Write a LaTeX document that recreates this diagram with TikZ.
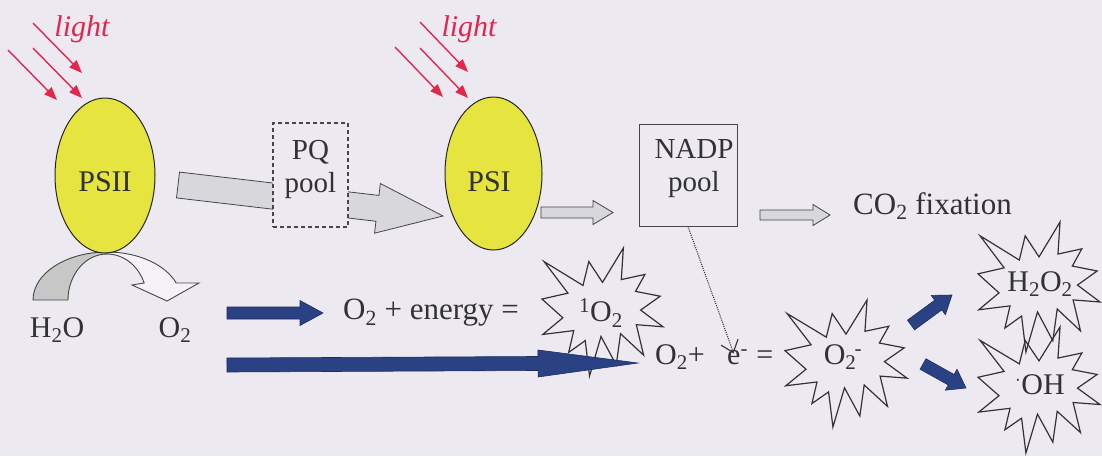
\documentclass[tikz,border=0pt]{standalone}
\usepackage{fontspec}
\setmainfont{Liberation Serif}
\usetikzlibrary{arrows.meta,calc,shapes.geometric}

\definecolor{bg}{RGB}{236,233,240}
\definecolor{psyellow}{RGB}{230,228,62}
\definecolor{lightred}{RGB}{226,38,78}
\definecolor{darkblue}{RGB}{42,66,132}
\definecolor{arrgrey}{RGB}{216,216,220}
\definecolor{linegrey}{RGB}{70,70,70}
\definecolor{txt}{RGB}{50,50,50}
\definecolor{whitearr}{RGB}{244,242,246}

% block arrow: #1 style, #2 tail, #3 tip, #4 half shaft, #5 half head, #6 head length
\newcommand\blockarrow[6]{%
  \coordinate (ba-h) at ($(#3)!#6!(#2)$);
  \path[#1] ($(#2)!#4!90:(#3)$) -- ($(ba-h)!#4!90:(#3)$) -- ($(ba-h)!#5!90:(#3)$)
    -- (#3) -- ($(ba-h)!#5!-90:(#3)$) -- ($(ba-h)!#4!-90:(#3)$) -- ($(#2)!#4!-90:(#3)$) -- cycle;}

% explosion outline in a 100x100 box
\newcommand\explosion[1]{%
  \draw[#1] (50,26.85) -- (38.67,10.63) -- (33.85,29.26) -- (1.71,10.63) -- (21.42,35.26)
   -- (0,39.88) -- (17.23,54.51) -- (0.63,67.53) -- (26.24,64.52) -- (22.05,81.56)
   -- (35.72,72.35) -- (39.28,100) -- (48.76,69.14) -- (61.33,91.38) -- (64.91,66.93)
   -- (84,83.77) -- (77.95,59.92) -- (100,61.53) -- (81.51,48.5) -- (97.67,37.67)
   -- (77.32,33.87) -- (85.09,20.63) -- (65.53,24.65) -- (67.23,0) -- cycle;}

\begin{document}
\begin{tikzpicture}[x=1pt,y=-1pt,
  lbl/.style={inner sep=0pt, text=txt, font=\fontsize{30}{30}\selectfont},
  eqlbl/.style={inner sep=0pt, text=txt, font=\fontsize{31}{31}\selectfont},
  boxlbl/.style={inner sep=0pt, text=txt, align=center, font=\fontsize{29}{33}\selectfont},
  lighttxt/.style={inner sep=0pt, text=lightred, font=\itshape\fontsize{30}{30}\selectfont},
  lightarr/.style={draw=lightred, line width=1.4pt, -{Triangle[length=13pt,width=10pt]}},
  psshape/.style={ellipse, draw=black!85, line width=1pt, fill=psyellow, inner sep=0pt},
  greyarr/.style={fill=arrgrey, draw=linegrey, line width=0.8pt},
  bluearr/.style={fill=darkblue, draw=darkblue!70!black, line width=0.6pt},
  seal/.style={draw=black!80, line width=1.2pt, line join=miter},
  curvgrey/.style={fill=black!22, draw=linegrey, line width=0.9pt},
  curvwhite/.style={fill=whitearr, draw=linegrey, line width=0.9pt},
  dotarr/.style={draw=black!80, line width=1.1pt, dash pattern=on 1pt off 1.2pt,
    -{Straight Barb[length=11pt,width=18pt,line width=1.1pt]}}
]
\fill[bg] (0,0) rectangle (1102,456);
\useasboundingbox (0,0) rectangle (1102,456);

% curved arrows under PSII
\draw[curvgrey] (33,300) arc[start angle=180, end angle=270, x radius=74, y radius=48]
  -- (107,254) arc[start angle=270, end angle=180, x radius=39, y radius=46] -- cycle;
\draw[curvwhite] (107,252) arc[start angle=270, end angle=339.3, x radius=74, y radius=48]
  -- (199,283) -- (167,301) -- (132,285) -- (144.2,283)
  arc[start angle=338.3, end angle=270, x radius=40, y radius=46] -- cycle;

% photosystems
\node[psshape, minimum width=100pt, minimum height=155pt] (psii) at (105,175.5) {};
\node[lbl] (psiit) at (105,182) {PSII};

% big grey arrow PSII -> PSI (behind PQ pool)
\coordinate (g1) at (178,185);
\coordinate (g2) at (443,216);
\blockarrow{greyarr}{g1}{g2}{13pt}{25pt}{66pt}

\node[draw=linegrey, line width=1.1pt, dash pattern=on 4pt off 3pt, fill=bg,
  minimum width=75pt, minimum height=104pt, inner sep=0pt] (pq) at (310.5,175) {};
\node[boxlbl] (pqt) at (310.5,169) {PQ\\pool};

\node[psshape, minimum width=97pt, minimum height=153pt] (psi) at (493.5,173.5) {};
\node[lbl] (psit) at (489,182) {PSI};

% light
\node[lighttxt] (light1) at (82,29) {light};
\node[lighttxt] (light2) at (469,29) {light};
\foreach \p in {(33,23),(8,50),(33,48)} \draw[lightarr] \p -- ++(49,50);
\foreach \p in {(420,22),(395,47),(420,48)} \draw[lightarr] \p -- ++(48,50);

% NADP pool
\node[draw=linegrey, line width=1pt, minimum width=98pt, minimum height=102pt, inner sep=0pt] (nadp) at (688,175) {};
\node[boxlbl] (nadpt) at (694,169) {NADP\\pool};

\coordinate (a1) at (541,212.5);
\coordinate (a2) at (613,212.5);
\blockarrow{greyarr}{a1}{a2}{5.5pt}{12pt}{20pt}
\coordinate (b1) at (760,215);
\coordinate (b2) at (830,215);
\blockarrow{greyarr}{b1}{b2}{5pt}{10.5pt}{17pt}
\node[eqlbl, anchor=west] (co2) at (853,206) {CO\textsubscript{2} fixation};

% H2O / O2
\node[lbl] (h2o) at (57,330) {H\textsubscript{2}O};
\node[lbl] (o2) at (175,330) {O\textsubscript{2}};

% stars
\explosion{seal, shift={(542,248)}, xscale=1.21, yscale=1.28}
\node[lbl] (singlet) at (601,313) {\textsuperscript{1}O\textsubscript{2}};
\explosion{seal, shift={(785,300)}, xscale=1.22, yscale=1.27}
\node[lbl] (superox) at (843,357) {O\textsubscript{2}\kern-0.06em\textsuperscript{-}};
\explosion{seal, shift={(978,222)}, xscale=1.22, yscale=1.30}
\node[lbl] (h2o2) at (1040,284) {H\textsubscript{2}O\textsubscript{2}};
\explosion{seal, shift={(978,327)}, xscale=1.22, yscale=1.26}
\node[lbl] (oh) at (1040,385) {\textsuperscript{$\cdot$}OH};

% blue arrows
\coordinate (c1) at (227,313);
\coordinate (c2) at (323,313);
\blockarrow{bluearr}{c1}{c2}{6pt}{12.5pt}{23pt}
\node[eqlbl, anchor=west] (energy) at (343,313) {O\textsubscript{2} + energy =};

\coordinate (d1) at (227,365);
\coordinate (d2) at (638,363);
\blockarrow{bluearr}{d1}{d2}{7pt}{13.5pt}{100pt}

\node[lbl, anchor=west] (o2p) at (655,357) {O\textsubscript{2}+};
\node[lbl, anchor=base west] (el) at ($(o2p.base east)+(22,0)$) {e\textsuperscript{-}};
\node[lbl, anchor=base west] (eqs) at ($(el.base east)+(8,0)$) {=};
\draw[dotarr] (nadp.south) -- ($(el.north)+(-4,4)$);

\coordinate (e1) at (911,325);
\coordinate (e2) at (952,295);
\blockarrow{bluearr}{e1}{e2}{6pt}{12pt}{17pt}
\coordinate (f1) at (923,364);
\coordinate (f2) at (966,388);
\blockarrow{bluearr}{f1}{f2}{6pt}{12pt}{17pt}
\end{tikzpicture}
\end{document}
